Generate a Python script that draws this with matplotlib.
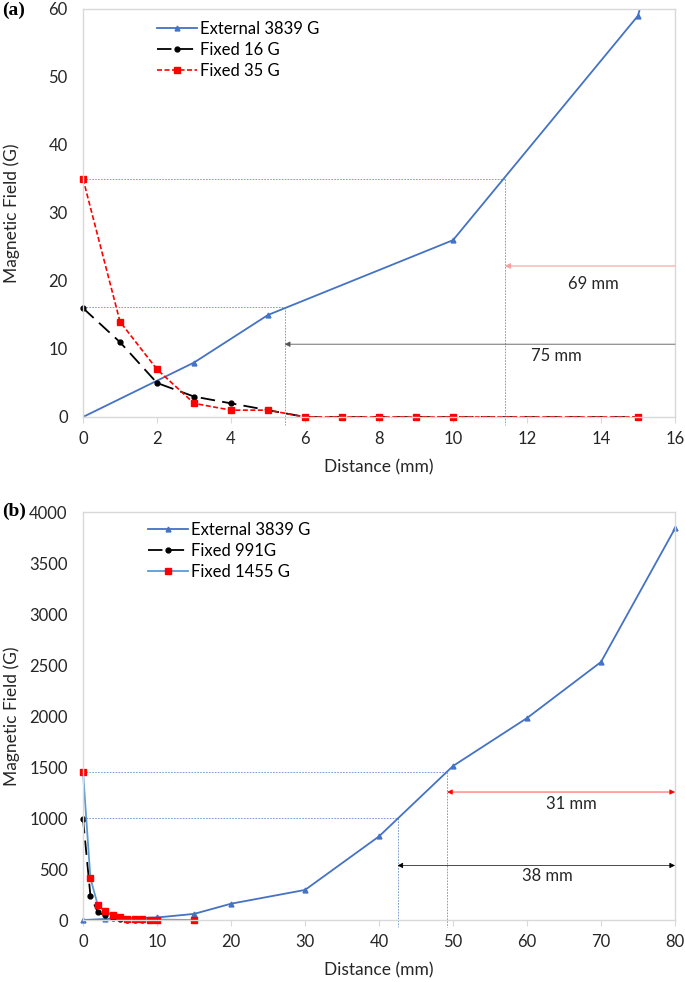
"""Magnetic field vs distance, two panels (a) and (b)."""
import matplotlib
matplotlib.use("Agg")
import matplotlib.pyplot as plt

plt.rcParams["font.family"] = ["Lato", "DejaVu Sans"]

# ---- panel (a) data ----
ext_x_a = [0, 3, 5, 10, 15, 20]
ext_y_a = [0, 8, 15, 26, 59, 160]
fix16_x = [0, 1, 2, 3, 4, 5, 6, 7, 8, 9, 10, 15]
fix16_y = [16, 11, 5, 3, 2, 1, 0, 0, 0, 0, 0, 0]
fix35_x = [0, 1, 2, 3, 4, 5, 6, 7, 8, 9, 10, 15]
fix35_y = [35, 14, 7, 2, 1, 1, 0, 0, 0, 0, 0, 0]

# ---- panel (b) data ----
ext_x_b = [0, 3, 10, 15, 20, 30, 40, 50, 60, 70, 80]
ext_y_b = [0, 10, 25, 60, 160, 295, 820, 1510, 1980, 2530, 3839]
fix991_x = [0, 1, 2, 3, 4, 5, 6, 7, 8, 9, 10]
fix991_y = [991, 240, 75, 45, 20, 12, 5, 3, 2, 1, 1]
fix1455_x = [0, 1, 2, 3, 4, 5, 6, 7, 8, 9, 10, 15]
fix1455_y = [1455, 410, 145, 85, 45, 25, 15, 10, 8, 5, 5, 0]

BLUE = "#4472C4"
LIGHTBLUE = "#5B9BD5"
RED = "#FF0000"
GRAY = "#D9D9D9"
TXT = "#262626"
FS = 12


def style_axes(ax):
    for s in ax.spines.values():
        s.set_color(GRAY)
        s.set_linewidth(1.0)
    ax.tick_params(axis="x", colors=GRAY, labelcolor=TXT, labelsize=FS,
                   length=4, pad=6, direction="out")
    ax.tick_params(axis="y", length=0, labelsize=FS, labelcolor=TXT, pad=11)
    ax.set_xlabel("Distance (mm)", fontsize=FS + 0.5, color=TXT, labelpad=9)
    ax.set_ylabel("Magnetic Field (G)", fontsize=FS + 0.5, color=TXT,
                  va="center", ha="center")
    ax.yaxis.set_label_coords(-0.121, 0.5)


def guide(ax, x0, y0, ybelow):
    ax.plot([0, x0], [y0, y0], color=BLUE, lw=0.6, ls=(0, (2, 1.5)), alpha=0.8)
    ax.plot([x0, x0], [y0, ybelow], color=BLUE, lw=0.6, ls=(0, (2, 1.5)),
            alpha=0.8, clip_on=False)


fig = plt.figure(figsize=(6.85, 9.82), dpi=100)

# ================= panel (a) =================
ax1 = fig.add_axes([0.1212, 0.5754, 0.8642, 0.4155])
guide(ax1, 5.45, 16.1, -1.2)
guide(ax1, 11.4, 35, -1.2)
ax1.plot(ext_x_a, ext_y_a, color=BLUE, lw=1.3, marker="^", ms=3.5,
         label="External 3839 G")
ax1.plot(fix16_x, fix16_y, color="black", lw=1.3, ls=(0, (8, 4)), marker="o",
         ms=3.5, label="Fixed 16 G", clip_on=False)
ax1.plot(fix35_x, fix35_y, color=RED, lw=1.2, ls=(0, (3, 1.5)), marker="s",
         ms=4, label="Fixed 35 G", clip_on=False)
ax1.set_xlim(0, 16)
ax1.set_ylim(0, 60)
ax1.set_xticks(range(0, 17, 2))
ax1.set_yticks(range(0, 61, 10))
style_axes(ax1)
ax1.annotate("", xy=(11.4, 22.2), xytext=(16, 22.2),
             arrowprops=dict(arrowstyle="-|>", color="#F4A0A0", lw=0.8,
                             mutation_scale=8, shrinkA=0, shrinkB=0))
ax1.annotate("", xy=(5.45, 10.7), xytext=(16, 10.7),
             arrowprops=dict(arrowstyle="-|>", color="#555555", lw=0.6,
                             mutation_scale=8, shrinkA=0, shrinkB=0))
ax1.text(13.8, 19.6, "69 mm", fontsize=FS, ha="center", va="center", color=TXT)
ax1.text(12.8, 8.9, "75 mm", fontsize=FS, ha="center", va="center", color=TXT)
ax1.legend(loc="upper left", bbox_to_anchor=(0.1, 1.008), frameon=False,
           fontsize=FS, handlelength=2.4, handletextpad=0.15, labelspacing=0.3)
fig.text(0.003, 0.989, "(a)", fontsize=14, fontweight="bold",
         family="Liberation Serif", va="center")

# ================= panel (b) =================
ax2 = fig.add_axes([0.1212, 0.0631, 0.8642, 0.4155])
guide(ax2, 49.2, 1455, -70)
guide(ax2, 42.5, 1000, -70)
ax2.plot(ext_x_b, ext_y_b, color=BLUE, lw=1.3, marker="^", ms=3.5,
         label="External 3839 G", clip_on=False)
ax2.plot(fix991_x, fix991_y, color="black", lw=1.3, ls=(0, (8, 4)), marker="o",
         ms=3.5, label="Fixed 991G", clip_on=False)
ax2.plot(fix1455_x, fix1455_y, color=LIGHTBLUE, lw=1.3, marker="s", ms=4,
         mfc=RED, mec=RED, label="Fixed 1455 G", clip_on=False)
ax2.set_xlim(0, 80)
ax2.set_ylim(0, 4000)
ax2.set_xticks(range(0, 81, 10))
ax2.set_yticks(range(0, 4001, 500))
style_axes(ax2)
ax2.annotate("", xy=(49.2, 1255), xytext=(80, 1255),
             arrowprops=dict(arrowstyle="<|-|>", color=RED, lw=0.5,
                             mutation_scale=8, shrinkA=0, shrinkB=0))
ax2.annotate("", xy=(42.5, 535), xytext=(80, 535),
             arrowprops=dict(arrowstyle="<|-|>", color="black", lw=0.5,
                             mutation_scale=8, shrinkA=0, shrinkB=0))
ax2.text(66, 1140, "31 mm", fontsize=FS, ha="center", va="center", color=TXT)
ax2.text(62.8, 430, "38 mm", fontsize=FS, ha="center", va="center", color=TXT)
ax2.legend(loc="upper left", bbox_to_anchor=(0.085, 1.013), frameon=False,
           fontsize=FS, handlelength=2.4, handletextpad=0.15, labelspacing=0.3)
fig.text(0.003, 0.479, "(b)", fontsize=14, fontweight="bold",
         family="Liberation Serif", va="center")

fig.savefig("out.png", dpi=100)
plt.close(fig)
